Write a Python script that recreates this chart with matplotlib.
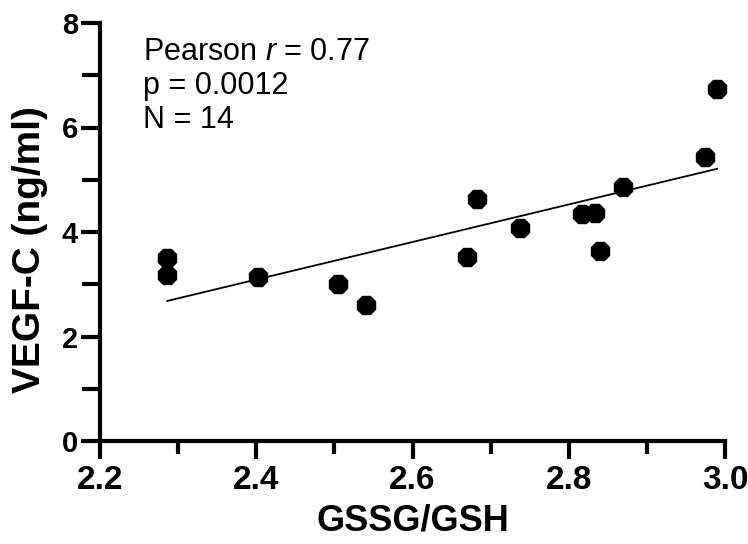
import matplotlib
matplotlib.use("Agg")
import matplotlib.pyplot as plt
from matplotlib import font_manager
from matplotlib.ticker import MultipleLocator

# ---- data ----
gssg_gsh = [2.286, 2.286, 2.402, 2.505, 2.541, 2.670, 2.683, 2.738,
            2.817, 2.834, 2.840, 2.870, 2.975, 2.990]
vegf_c = [3.50, 3.18, 3.14, 3.00, 2.60, 3.52, 4.63, 4.08,
          4.34, 4.36, 3.64, 4.86, 5.44, 6.74]
fit_x = [2.286, 2.990]
fit_y = [2.68, 5.21]
x_ticks = [2.2, 2.4, 2.6, 2.8, 3.0]
x_tick_labels = ["2.2", "2.4", "2.6", "2.8", "3.0"]
y_ticks = [0, 2, 4, 6, 8]
y_tick_labels = ["0", "2", "4", "6", "8"]
stats_lines = ["Pearson $\\it{r}$ = 0.77", "p = 0.0012", "N = 14"]

names = {f.name for f in font_manager.fontManager.ttflist}
base = "Liberation Sans" if "Liberation Sans" in names else "DejaVu Sans"

plt.rcParams["font.family"] = [base, "DejaVu Sans"]
plt.rcParams["mathtext.fontset"] = "custom"
plt.rcParams["mathtext.rm"] = base
plt.rcParams["mathtext.it"] = base + ":italic"

fig = plt.figure(figsize=(7.48, 5.44), dpi=100)
ax = fig.add_axes([100 / 748, 1 - 441 / 544, 625 / 748, 418 / 544])

ax.plot(gssg_gsh, vegf_c, linestyle="none", marker="8", markersize=13.5,
        color="black", clip_on=False, zorder=3)
ax.plot(fit_x, fit_y, color="black", linewidth=1.3, zorder=2)

ax.set_xlim(2.2, 3.0)
ax.set_ylim(0, 8)

for s in ["top", "right"]:
    ax.spines[s].set_visible(False)
for s in ["left", "bottom"]:
    ax.spines[s].set_linewidth(3)
    ax.spines[s].set_capstyle("projecting")

ax.set_xticks(x_ticks)
ax.set_xticklabels(x_tick_labels, fontsize=24, fontweight="bold")
ax.set_yticks(y_ticks)
ax.set_yticklabels(y_tick_labels, fontsize=21, fontweight="bold")
ax.xaxis.set_minor_locator(MultipleLocator(0.1))
ax.yaxis.set_minor_locator(MultipleLocator(1))

ax.tick_params(axis="x", which="major", length=13, width=3, pad=4)
ax.tick_params(axis="x", which="minor", length=9, width=3)
ax.tick_params(axis="y", which="major", length=14, width=3, pad=2)
ax.tick_params(axis="y", which="minor", length=13, width=3)

ax.set_xlabel("GSSG/GSH", fontsize=26, fontweight="bold")
ax.xaxis.set_label_coords(0.5, -0.15)
ax.set_ylabel("VEGF-C (ng/ml)", fontsize=28, fontweight="bold")
ax.yaxis.set_label_coords(-0.112, 0.457)
ax.yaxis.label.set_va("center")

ys = [0.9115, 0.830, 0.749]
for txt, yy in zip(stats_lines, ys):
    ax.text(0.0688, yy, txt, transform=ax.transAxes, fontsize=22,
            va="baseline", ha="left")

fig.savefig("out.png", dpi=100)
